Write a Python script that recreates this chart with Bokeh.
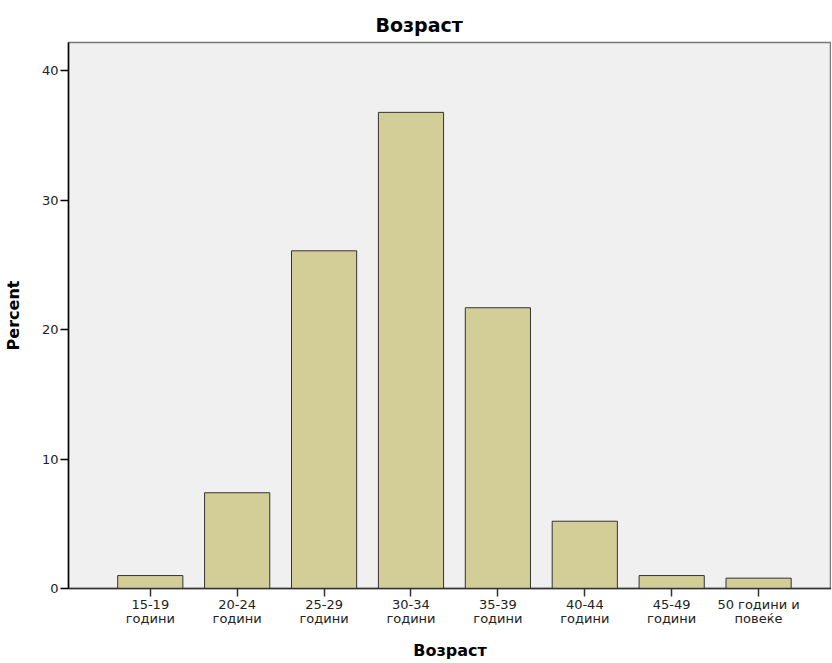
from bokeh.plotting import figure
from bokeh.models import Range1d, FixedTicker, ColumnDataSource
from bokeh.embed import file_html
from bokeh.resources import INLINE

# ---- data ----
age_groups = ["15-19\nгодини", "20-24\nгодини", "25-29\nгодини", "30-34\nгодини",
              "35-39\nгодини", "40-44\nгодини", "45-49\nгодини", "50 години и\nповеќе"]
percent = [1.0, 7.4, 26.1, 36.8, 21.7, 5.2, 1.0, 0.8]
y_ticks = [0, 10, 20, 30, 40]

xs = list(range(len(age_groups)))
src = ColumnDataSource(dict(x=xs, top=percent))

FONT = "DejaVu Sans"

p = figure(frame_width=763, frame_height=546,
           min_border_left=61, min_border_right=0, min_border_top=42, min_border_bottom=60,
           x_range=Range1d(-0.941, 7.839), y_range=Range1d(0, 42.2),
           output_backend="svg", toolbar_location=None, tools="",
           title="Возраст")

p.vbar(x="x", top="top", width=0.75, source=src,
       fill_color="#D3CE97", line_color="#333333", line_width=1)

p.background_fill_color = "#F0F0F0"
p.border_fill_color = "white"
p.outline_line_color = "#777777"
p.outline_line_width = 1.5
p.grid.visible = False

# title
p.title.text_font = FONT
p.title.text_font_size = "19px"
p.title.text_font_style = "bold"
p.title.text_color = "black"
p.title.align = "left"
p.title.offset = 307
p.title.standoff = 13

# y axis
ya = p.yaxis[0]
ya.ticker = FixedTicker(ticks=y_ticks)
ya.minor_tick_line_color = None
ya.major_tick_in = 0
ya.major_tick_out = 8
ya.major_tick_line_color = "black"
ya.major_tick_line_width = 1.5
ya.axis_line_color = "black"
ya.axis_line_width = 1.5
ya.major_label_standoff = 2
ya.major_label_text_font = FONT
ya.major_label_text_font_size = "13px"
ya.major_label_text_color = "#222222"
ya.axis_label = "Percent"
ya.axis_label_text_font = FONT
ya.axis_label_text_font_size = "16px"
ya.axis_label_text_font_style = "bold"
ya.axis_label_text_color = "black"
ya.axis_label_standoff = 16

# x axis
xa = p.xaxis[0]
xa.ticker = FixedTicker(ticks=xs)
xa.major_label_overrides = {i: lab for i, lab in enumerate(age_groups)}
xa.minor_tick_line_color = None
xa.major_tick_in = 0
xa.major_tick_out = 8
xa.major_tick_line_color = "#333333"
xa.major_tick_line_width = 1.5
xa.axis_line_color = "#333333"
xa.axis_line_width = 1.5
xa.major_label_standoff = 0
xa.major_label_text_font = FONT
xa.major_label_text_font_size = "13px"
xa.major_label_text_color = "#222222"
xa.major_label_text_line_height = 0.95
xa.axis_label = "Возраст"
xa.axis_label_text_font = FONT
xa.axis_label_text_font_size = "16px"
xa.axis_label_text_font_style = "bold"
xa.axis_label_text_color = "black"
xa.axis_label_standoff = 12

open("out.html", "w").write(file_html(p, INLINE))
